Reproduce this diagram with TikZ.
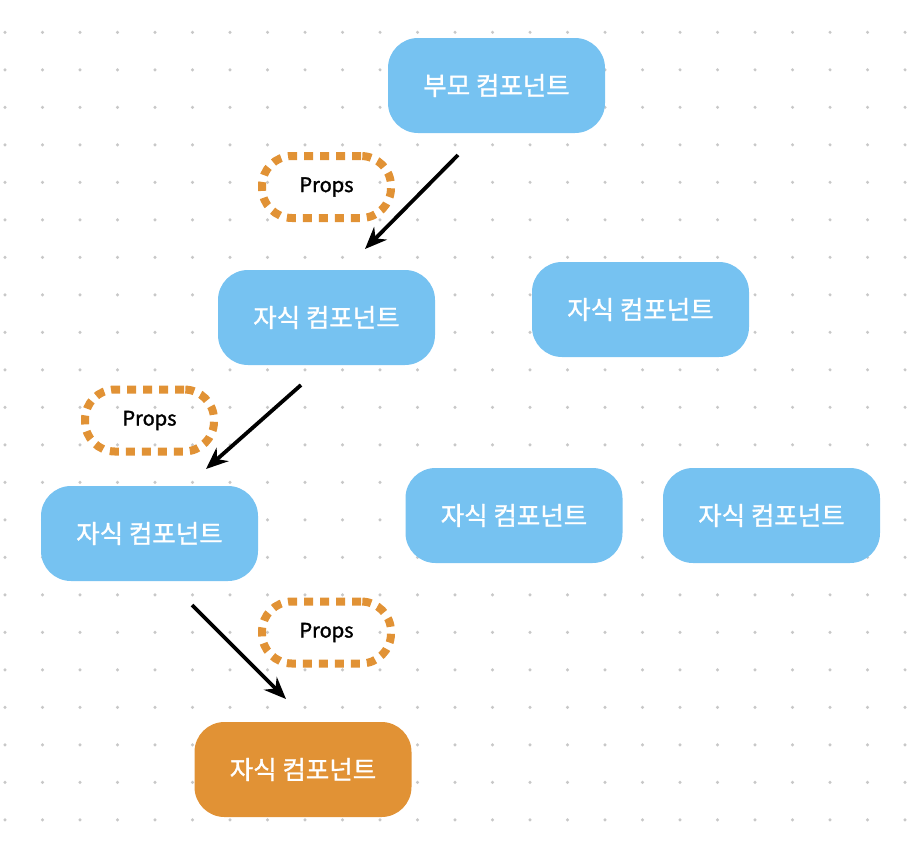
\documentclass[tikz,border=0pt]{standalone}
\usepackage{fontspec}
\newfontfamily\kr{Noto Sans CJK KR}[FakeBold=1.2]
\newfontfamily\krprops{Noto Sans CJK KR}[FakeBold=1.5]
\usetikzlibrary{arrows.meta}
\definecolor{compblue}{RGB}{118,194,241}
\definecolor{comporange}{RGB}{225,146,53}
\definecolor{griddot}{RGB}{200,200,200}
\tikzset{
  comp/.style={fill=compblue, rounded corners=30pt, minimum width=217pt, minimum height=95pt,
    inner sep=0pt, text=white, font=\kr\fontsize{25.5}{30}\selectfont},
  props/.style={draw=comporange, line width=8pt, dash pattern=on 9pt off 7pt, rounded corners=30pt,
    minimum width=129pt, minimum height=62pt, inner sep=0pt, font=\krprops\fontsize{20}{24}\selectfont},
  flow/.style={line width=3.8pt, -{Stealth[length=22pt,width=18pt]}}
}
\begin{document}
\begin{tikzpicture}[x=1pt,y=-1pt]
    \useasboundingbox (0,0) rectangle (918,852);
    % dot grid
    \foreach \i in {0,...,24}
        \foreach \j in {0,...,21}
            \fill [griddot] (5+37.5*\i,32.3+37.5*\j) circle (1.7);
    % components
    \node [comp] (parent) at (496.5,85.5) {부모 컴포넌트};
    \node [comp] (childA) at (326.5,317.5) {자식 컴포넌트};
    \node [comp] (childB) at (640.5,309.5) {자식 컴포넌트};
    \node [comp] (childC) at (149.5,533.5) {자식 컴포넌트};
    \node [comp] (childD) at (514,515.5) {자식 컴포넌트};
    \node [comp] (childE) at (771.5,515.5) {자식 컴포넌트};
    \node [comp, fill=comporange] (childF) at (303,769.5) {자식 컴포넌트};
    % props labels
    \node [props] (propsA) at (326.5,187) {Props};
    \node [props] (propsB) at (149.5,420.5) {Props};
    \node [props] (propsC) at (326.5,632.5) {Props};
    % arrow ends
    \coordinate (a1) at (458,155);
    \coordinate (b1) at (365,249);
    \coordinate (a2) at (301,385);
    \coordinate (b2) at (206,469);
    \coordinate (a3) at (192,605);
    \coordinate (b3) at (286,699);
    \draw [flow] (a1) -- (b1);
    \draw [flow] (a2) -- (b2);
    \draw [flow] (a3) -- (b3);
\end{tikzpicture}
\end{document}
